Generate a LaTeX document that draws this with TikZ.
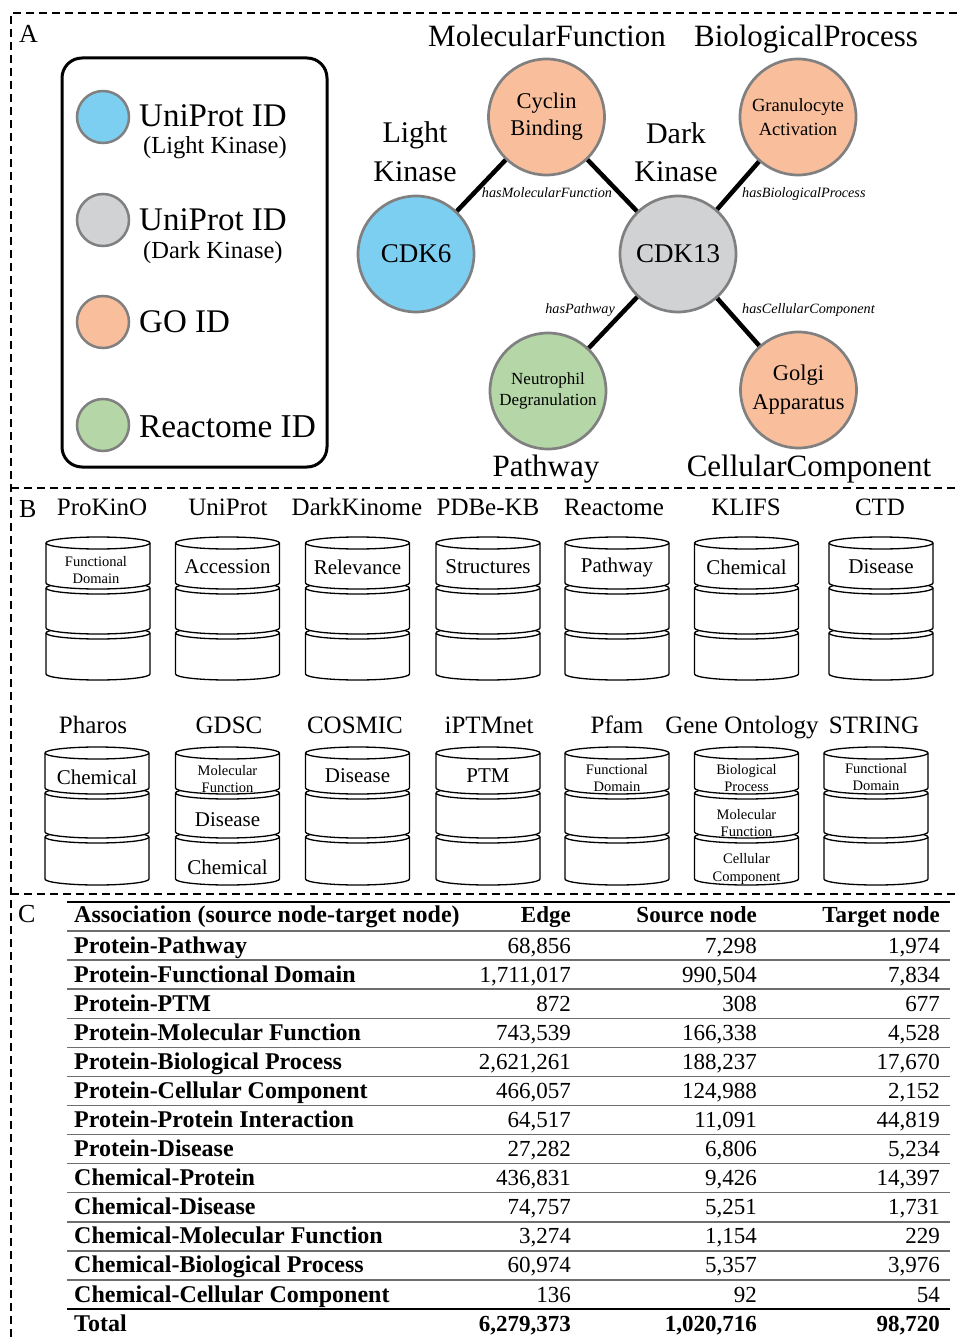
\documentclass[tikz,border=0pt]{standalone}
\usepackage{fontspec}
\setmainfont{Liberation Serif}
\definecolor{kblue}{RGB}{125,207,242}
\definecolor{kgray}{RGB}{209,210,212}
\definecolor{korange}{RGB}{249,191,157}
\definecolor{kgreen}{RGB}{181,215,167}
\definecolor{kborder}{RGB}{128,128,128}
\definecolor{rulegray}{RGB}{110,110,110}
\newcommand\fsz[2]{\fontsize{#1pt}{#2pt}\selectfont}
\newcommand\cylseg[3]{%
  \filldraw[cyl] (#1-52,#2) -- (#1-52,#3) arc[start angle=180,end angle=0,x radius=52,y radius=6] -- (#1+52,#2) arc[start angle=0,end angle=-180,x radius=52,y radius=6] -- cycle;
  \draw[cyl] (#1-52,#2) arc[start angle=180,end angle=0,x radius=52,y radius=6];}
\newcommand\cylstack[7]{\cylseg{#1}{#6}{#7}\cylseg{#1}{#4}{#5}\cylseg{#1}{#2}{#3}}
\newcommand\trow[6]{%
  \node[tname] (r#1a) at (74,#2) {#3};
  \node[tnum] (r#1b) at (571,#2) {#4};
  \node[tnum] (r#1c) at (757,#2) {#5};
  \node[tnum] (r#1d) at (940,#2) {#6};}
\begin{document}
\begin{tikzpicture}[x=1pt,y=-1pt,
  frameline/.style={dash pattern=on 8pt off 5pt, line width=1.4pt},
  kn/.style={circle, draw=kborder, line width=2.7pt, minimum size=116pt, inner sep=0pt, align=center},
  lgc/.style={circle, draw=kborder, line width=2.5pt, minimum size=52pt, inner sep=0pt},
  link/.style={line width=4.5pt, black},
  rel/.style={font=\fsz{14.2}{16}\itshape, inner sep=0pt},
  cyl/.style={draw=black, fill=white, line width=1.3pt, line join=round},
  big/.style={font=\fsz{31}{34}, inner sep=0pt},
  panel/.style={font=\fsz{26}{30}, inner sep=0pt, anchor=base west},
  dbt/.style={font=\fsz{25}{28}, inner sep=0pt, anchor=base},
  cl/.style={font=\fsz{21}{24}, inner sep=0pt},
  cs/.style={font=\fsz{14.5}{17.5}, inner sep=0pt, align=center},
  tname/.style={font=\fsz{24}{26}\bfseries, inner sep=0pt, anchor=base west},
  tnum/.style={font=\fsz{23}{26}, inner sep=0pt, anchor=base east},
  thead/.style={font=\fsz{23}{26}\bfseries, inner sep=0pt, anchor=base east},
  trule/.style={draw=rulegray, line width=1.5pt},
  tthick/.style={draw=black, line width=2pt}
]
\useasboundingbox (0,0) rectangle (962,1337);

% frame
\draw[frameline] (957,13) -- (11,13) -- (11,1337);
\draw[frameline] (11,488) -- (957,488);
\draw[frameline] (11,894) -- (957,894);

% ---------------- Panel A
\node[panel] (labA) at (19,43) {A};
\node[draw, line width=3pt, rounded corners=20pt, minimum width=265pt, minimum height=409pt, inner sep=0pt] (legend) at (194.5,262.5) {};
\node[lgc, fill=kblue] (lg1) at (103,117) {};
\node[lgc, fill=kgray] (lg2) at (103,220) {};
\node[lgc, fill=korange] (lg3) at (103,322) {};
\node[lgc, fill=kgreen] (lg4) at (103,425) {};
\node[font=\fsz{33}{36}, inner sep=0pt, anchor=base west] (lt1) at (139,127) {UniProt ID};
\node[font=\fsz{24.5}{27}, inner sep=0pt, anchor=base west] (lt1b) at (143,154) {(Light Kinase)};
\node[font=\fsz{33}{36}, inner sep=0pt, anchor=base west] (lt2) at (139,231) {UniProt ID};
\node[font=\fsz{24.5}{27}, inner sep=0pt, anchor=base west] (lt2b) at (143,259) {(Dark Kinase)};
\node[font=\fsz{33}{36}, inner sep=0pt, anchor=base west] (lt3) at (139,332) {GO ID};
\node[font=\fsz{33.3}{36}, inner sep=0pt, anchor=base west] (lt4) at (139,437) {Reactome ID};

\node[kn, fill=kblue, font=\fsz{27}{30}] (cdk6) at (416,254) {CDK6};
\node[kn, fill=kgray, font=\fsz{27}{30}] (cdk13) at (678,254) {CDK13};
\node[kn, fill=korange, font=\fsz{22.5}{28}] (cyclin) at (546.5,117) {Cyclin\\[-1pt]Binding};
\node[kn, fill=korange, font=\fsz{18.6}{24}] (granu) at (798,117) {Granulocyte\\Activation};
\node[kn, fill=kgreen, font=\fsz{17}{21}] (neutro) at (548,391) {Neutrophil\\Degranulation};
\node[kn, fill=korange, font=\fsz{22.5}{29}] (golgi) at (798.5,390) {Golgi\\Apparatus};

\draw[link] (cdk6) -- (cyclin);
\draw[link] (cyclin) -- (cdk13);
\draw[link] (granu) -- (cdk13);
\draw[link] (cdk13) -- (neutro);
\draw[link] (cdk13) -- (golgi);

\node[big, anchor=base] (tMF) at (547,47) {MolecularFunction};
\node[big, anchor=base] (tBP) at (806,47) {BiologicalProcess};
\node[font=\fsz{30}{33}, inner sep=0pt, anchor=base] (tL1) at (415,143) {Light};
\node[font=\fsz{30}{33}, inner sep=0pt, anchor=base] (tL2) at (415,182) {Kinase};
\node[font=\fsz{30}{33}, inner sep=0pt, anchor=base] (tD1) at (676,144) {Dark};
\node[font=\fsz{30}{33}, inner sep=0pt, anchor=base] (tD2) at (676,182) {Kinase};
\node[big, anchor=base] (tPW) at (546,476) {Pathway};
\node[big, anchor=base] (tCC) at (809,476) {CellularComponent};

\node[rel, anchor=base] (eMF) at (547,198) {hasMolecularFunction};
\node[rel, anchor=base west] (eBP) at (742,198) {hasBiologicalProcess};
\node[rel, anchor=base east] (ePW) at (615,313) {hasPathway};
\node[rel, anchor=base west] (eCC) at (742,313) {hasCellularComponent};

% ---------------- Panel B
\node[panel] (labB) at (19,517) {B};
\node[dbt] (d1) at (102,515) {ProKinO};
\node[dbt] (d2) at (228,515) {UniProt};
\node[dbt] (d3) at (357,515) {DarkKinome};
\node[dbt] (d4) at (488,515) {PDBe-KB};
\node[dbt] (d5) at (614,515) {Reactome};
\node[dbt] (d6) at (746,515) {KLIFS};
\node[dbt] (d7) at (880,515) {CTD};

\cylstack{98}{543}{583}{588}{628}{633}{674}
\cylstack{227.5}{543}{583}{588}{628}{633}{674}
\cylstack{357.5}{543}{583}{588}{628}{633}{674}
\cylstack{488}{543}{583}{588}{628}{633}{674}
\cylstack{617}{543}{583}{588}{628}{633}{674}
\cylstack{746.5}{543}{583}{588}{628}{633}{674}
\cylstack{881}{543}{583}{588}{628}{633}{674}

\node[cs] (c1) at (96,570) {Functional\\Domain};
\node[cl] (c2) at (227.5,567) {Accession};
\node[cl] (c3) at (357.5,567) {Relevance};
\node[cl] (c4) at (488,567) {Structures};
\node[cl] (c5) at (617,567) {Pathway};
\node[cl] (c6) at (746.5,567) {Chemical};
\node[cl] (c7) at (881,567) {Disease};

\node[dbt] (p1) at (93,733) {Pharos};
\node[dbt] (p2) at (229,733) {GDSC};
\node[dbt] (p3) at (355,733) {COSMIC};
\node[dbt] (p4) at (489,733) {iPTMnet};
\node[dbt] (p5) at (617,733) {Pfam};
\node[dbt] (p6) at (742,733) {Gene Ontology};
\node[dbt] (p7) at (874,733) {STRING};

\cylstack{97}{753}{788}{793}{832}{837}{879}
\cylstack{227.5}{753}{788}{793}{832}{837}{879}
\cylstack{357.5}{753}{788}{793}{832}{837}{879}
\cylstack{488}{753}{788}{793}{832}{837}{879}
\cylstack{617}{753}{788}{793}{832}{837}{879}
\cylstack{746.5}{753}{788}{793}{832}{837}{879}
\cylstack{876}{753}{788}{793}{832}{837}{879}

\node[cl] (q1) at (97,777) {Chemical};
\node[cs] (q2a) at (227.5,779) {Molecular\\Function};
\node[cl] (q2b) at (227.5,820) {Disease};
\node[cl] (q2c) at (227.5,867) {Chemical};
\node[cl] (q3) at (357.5,776) {Disease};
\node[cl] (q4) at (488,776) {PTM};
\node[cs] (q5) at (617,778) {Functional\\Domain};
\node[cs] (q6a) at (746.5,778) {Biological\\Process};
\node[cs] (q6b) at (746.5,823) {Molecular\\Function};
\node[cs] (q6c) at (746.5,869) {Cellular\\Component};
\node[cs] (q7) at (876,777) {Functional\\Domain};

% ---------------- Panel C
\node[panel] (labC) at (18,922) {C};
\draw[tthick] (67,902) -- (950,902);
\node[tname] (h1) at (74,922) {Association (source node-target node)};
\node[thead] (h2) at (571,922) {Edge};
\node[thead] (h3) at (757,922) {Source node};
\node[thead] (h4) at (940,922) {Target node};
\foreach \k in {0,...,12} {\draw[trule] (67,931+29.08*\k) -- (950,931+29.08*\k);}
\draw[tthick] (67,1309) -- (950,1309);

\trow{1}{953}{Protein-Pathway}{68,856}{7,298}{1,974}
\trow{2}{982.1}{Protein-Functional Domain}{1,711,017}{990,504}{7,834}
\trow{3}{1011.2}{Protein-PTM}{872}{308}{677}
\trow{4}{1040.2}{Protein-Molecular Function}{743,539}{166,338}{4,528}
\trow{5}{1069.3}{Protein-Biological Process}{2,621,261}{188,237}{17,670}
\trow{6}{1098.4}{Protein-Cellular Component}{466,057}{124,988}{2,152}
\trow{7}{1127.5}{Protein-Protein Interaction}{64,517}{11,091}{44,819}
\trow{8}{1156.6}{Protein-Disease}{27,282}{6,806}{5,234}
\trow{9}{1185.6}{Chemical-Protein}{436,831}{9,426}{14,397}
\trow{10}{1214.7}{Chemical-Disease}{74,757}{5,251}{1,731}
\trow{11}{1243.8}{Chemical-Molecular Function}{3,274}{1,154}{229}
\trow{12}{1272.9}{Chemical-Biological Process}{60,974}{5,357}{3,976}
\trow{13}{1302}{Chemical-Cellular Component}{136}{92}{54}
\node[tname] (tot1) at (74,1331) {Total};
\node[thead] (tot2) at (571,1331) {6,279,373};
\node[thead] (tot3) at (757,1331) {1,020,716};
\node[thead] (tot4) at (940,1331) {98,720};
\end{tikzpicture}
\end{document}
